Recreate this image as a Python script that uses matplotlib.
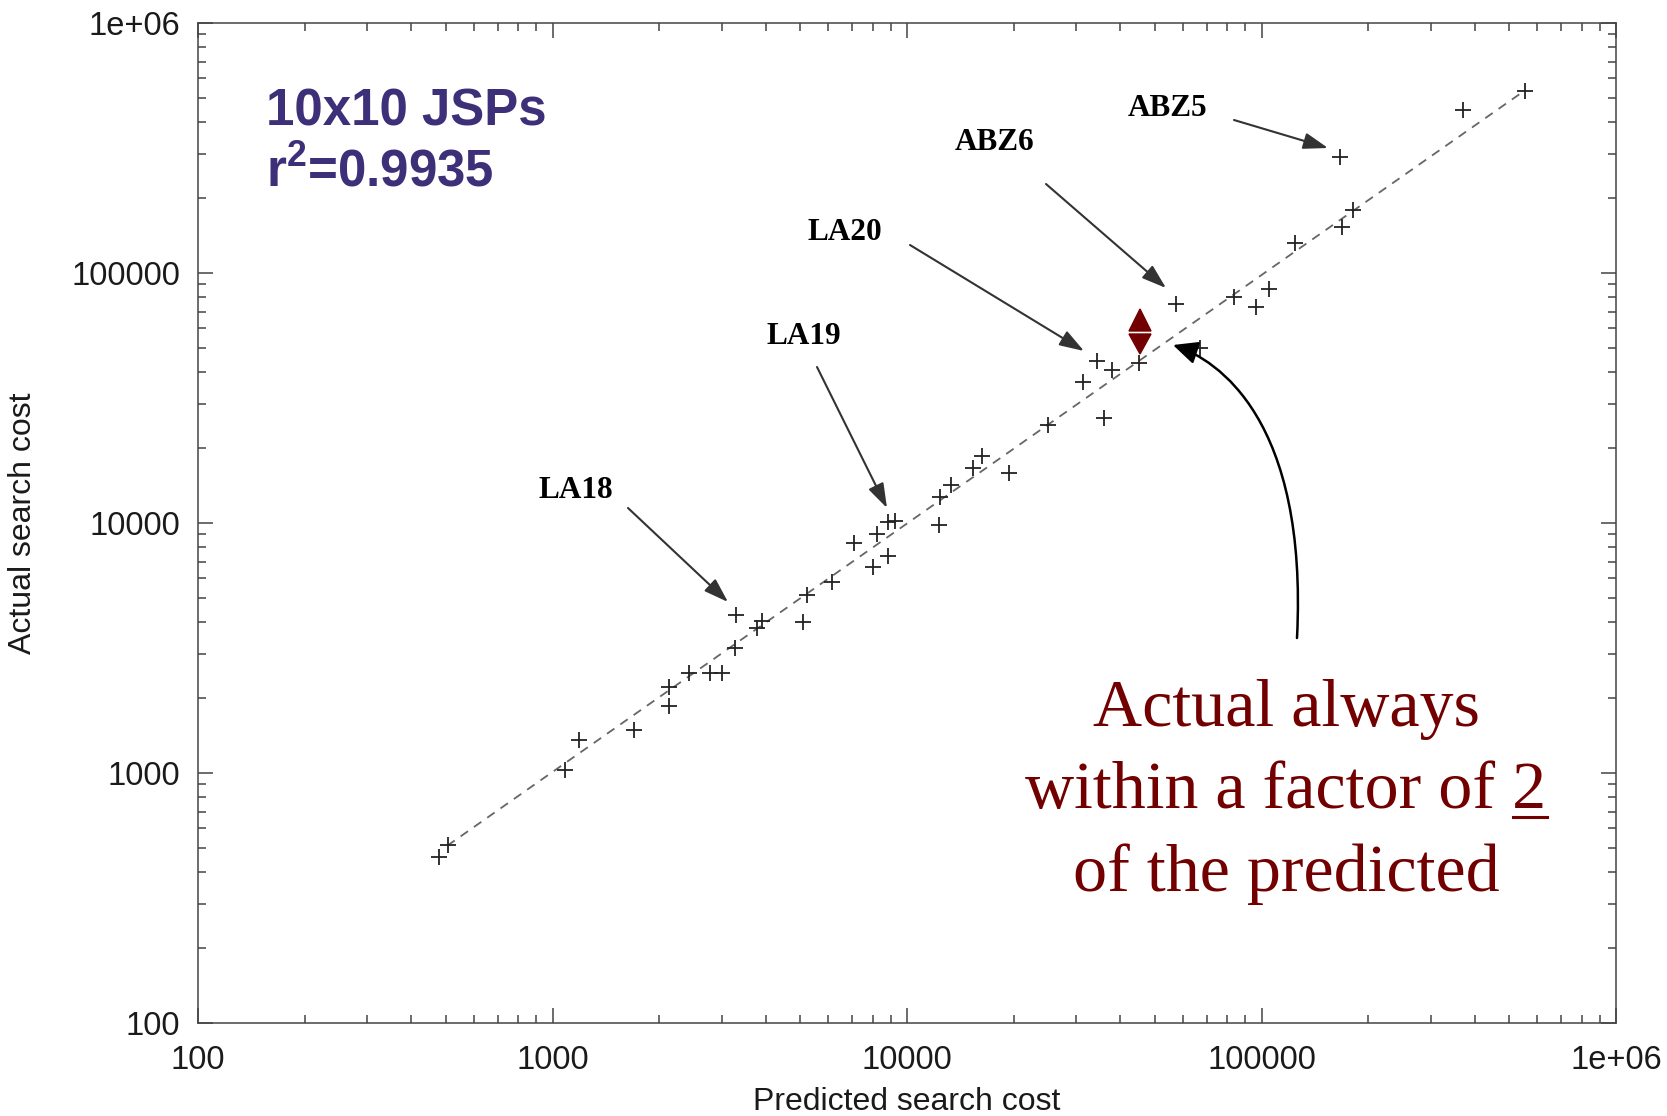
import matplotlib
matplotlib.use('Agg')
import matplotlib.pyplot as plt
from matplotlib.patches import Polygon, FancyArrowPatch
from matplotlib.lines import Line2D
from matplotlib.path import Path
from matplotlib.ticker import LogLocator, FuncFormatter, NullFormatter

plt.rcParams['font.family'] = ['Liberation Sans', 'DejaVu Sans']
plt.rcParams['mathtext.fontset'] = 'custom'
plt.rcParams['mathtext.rm'] = 'Liberation Sans:bold'
plt.rcParams['mathtext.bf'] = 'Liberation Sans:bold'

# predicted vs actual search cost, one point per 10x10 JSP instance
predicted = [479, 508, 1085, 1190, 1701, 2135, 2135, 2432, 2782, 3001, 3271, 3286,
             3767, 3891, 5099, 5234, 6132, 7088, 8035, 8825, 8215, 8859, 9250,
             12340, 12390, 13280, 15320, 16240, 19440, 25040, 31300, 34290, 37800,
             35950, 45200, 57400, 67080, 83630, 96500, 105200, 124300, 168300,
             181600, 166500, 369400, 553700]
actual = [460, 515, 1030, 1355, 1486, 1859, 2214, 2518, 2505, 2518, 3171, 4285,
          3819, 4064, 4029, 5152, 5793, 8296, 6688, 7379, 9036, 10120, 10190,
          9817, 12670, 14190, 16550, 18530, 15890, 24660, 36540, 44590, 40930,
          26380, 43540, 75160, 49990, 80400, 73320, 86080, 132200, 153200,
          178600, 291900, 448700, 536000]

# regression line end points
fit_x = [505, 556000]
fit_y = [512, 540000]

# named instances: label, text centre, arrow tail, arrow tip (reference pixels)
named = [
    ('LA18', (576, 490), (628, 508), (728, 602)),
    ('LA19', (804, 337), (817, 367), (887, 508)),
    ('LA20', (845, 233), (910, 245), (1084, 351)),
    ('ABZ6', (995, 142), (1046, 184), (1166, 288)),
    ('ABZ5', (1168, 109), (1234, 120), (1328, 148)),
]

AX_L, AX_R, AX_T, AX_B = 198, 1616, 23, 1023
W, H = 1667, 1116


def axfrac(px, py):
    return ((px - AX_L) / (AX_R - AX_L), (AX_B - py) / (AX_B - AX_T))


fig = plt.figure(figsize=(W / 100, H / 100), dpi=100)
ax = fig.add_axes([AX_L / W, 1 - AX_B / H, (AX_R - AX_L) / W, (AX_B - AX_T) / H])

ax.plot(fit_x, fit_y, color='#666666', lw=1.3, dashes=(5, 4), zorder=2)
ax.plot(predicted, actual, ls='none', marker='+', ms=11, mew=1.3,
        color='#222222', zorder=3)

ax.set_xscale('log')
ax.set_yscale('log')
ax.set_xlim(100, 1e6)
ax.set_ylim(100, 1e6)

fmt = FuncFormatter(lambda v, pos: '1e+06' if v >= 1e6 else '%d' % v)
for axis in (ax.xaxis, ax.yaxis):
    axis.set_major_locator(LogLocator(base=10))
    axis.set_minor_locator(LogLocator(base=10, subs=range(2, 10)))
    axis.set_major_formatter(fmt)
    axis.set_minor_formatter(NullFormatter())

ax.tick_params(which='both', direction='in', top=True, right=True,
               color='#444444', width=1.1)
ax.tick_params(which='major', length=11, labelsize=23.5, labelcolor='#1a1a1a')
ax.tick_params(which='minor', length=5.5)
ax.tick_params(axis='x', which='major', pad=16)
ax.tick_params(axis='y', which='major', pad=13)
for s in ax.spines.values():
    s.set_color('#444444')
    s.set_linewidth(1.1)

ax.set_xlabel('Predicted search cost', fontsize=23, color='#1a1a1a', va='center')
ax.set_ylabel('Actual search cost', fontsize=23, color='#1a1a1a', va='center')
ax.xaxis.set_label_coords(0.5, axfrac(0, 1102)[1])
ax.yaxis.set_label_coords(axfrac(23, 0)[0], 0.5)

# title block
purple = '#3d3078'
ax.text(*axfrac(266, 125), '10x10 JSPs', transform=ax.transAxes, fontsize=36.7,
        fontweight='bold', color=purple, va='baseline')
ax.text(*axfrac(266, 186), r'r$^\mathbf{2}$=0.9935', transform=ax.transAxes,
        fontsize=36.7, fontweight='bold', color=purple, va='baseline')

# instance labels and arrows
for name, tpos, tail, tip in named:
    ax.text(*axfrac(*tpos), name, transform=ax.transAxes, fontsize=22.5,
            fontweight='bold', family='Liberation Serif', ha='center',
            va='center', color='black')
    ax.annotate('', xy=axfrac(*tip), xytext=axfrac(*tail),
                xycoords='axes fraction', textcoords='axes fraction',
                arrowprops=dict(arrowstyle='-|>,head_length=0.6,head_width=0.2',
                                color='#333333', lw=1.5, shrinkA=0, shrinkB=0,
                                mutation_scale=25))

# factor-of-2 marker
dark_red = '#730000'
ax.add_patch(Polygon([axfrac(1140, 309), axfrac(1129, 331), axfrac(1151, 331)],
                     closed=True, transform=ax.transAxes, color=dark_red, zorder=4))
ax.add_patch(Polygon([axfrac(1129, 334), axfrac(1151, 334), axfrac(1140, 354)],
                     closed=True, transform=ax.transAxes, color=dark_red, zorder=4))

# curved pointer from the note
verts = [axfrac(1297, 638), axfrac(1308, 420), axfrac(1218, 360), axfrac(1173, 345)]
curve = FancyArrowPatch(path=Path(verts, [Path.MOVETO, Path.CURVE4, Path.CURVE4, Path.CURVE4]),
                        arrowstyle='-|>,head_length=0.6,head_width=0.28',
                        mutation_scale=25, lw=1.8, color='black',
                        transform=ax.transAxes, zorder=5)
ax.add_patch(curve)

# note text
note_kw = dict(transform=ax.transAxes, fontsize=49, family='Liberation Serif',
               color=dark_red, ha='center', va='baseline')
ax.text(*axfrac(1286, 726), 'Actual always', **note_kw)
t2 = ax.text(*axfrac(1286, 808), 'within a factor of 2', **note_kw)
ax.text(*axfrac(1286, 891), 'of the predicted', **note_kw)

# underline the "2"
fig.canvas.draw()
renderer = fig.canvas.get_renderer()
bb = t2.get_window_extent(renderer)
tmp = ax.text(0, 0, '2', **note_kw)
w2 = tmp.get_window_extent(renderer).width
tmp.remove()
base_y = ax.transAxes.transform(axfrac(1286, 808))[1]
inv = ax.transAxes.inverted()
(x0, y0) = inv.transform((bb.x1 - w2, base_y - 9))
(x1, _) = inv.transform((bb.x1, base_y - 9))
ax.add_line(Line2D([x0, x1], [y0, y0], transform=ax.transAxes, color=dark_red,
                   lw=2.2, clip_on=False))

fig.savefig('out.png', dpi=100)
